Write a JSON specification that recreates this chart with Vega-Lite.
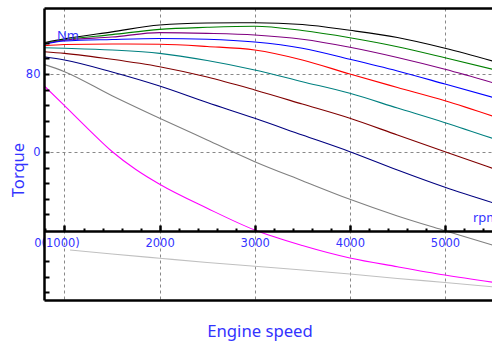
{
  "$schema": "https://vega.github.io/schema/vega-lite/v6.json",
  "width": 448,
  "height": 292,
  "autosize": "none",
  "padding": {"left": 44, "top": 8, "right": 0, "bottom": 44},
  "background": "white",
  "config": {"view": {"stroke": null}, "axis": {"labelFont": "DejaVu Sans", "titleFont": "Noto Sans"}},
  "datasets": {
    "curves": [
      {"s":"black","rpm":785,"t":112.1},{"s":"black","rpm":1000,"t":116},{"s":"black","rpm":1500,"t":123.2},{"s":"black","rpm":2000,"t":130.3},{"s":"black","rpm":2500,"t":132.3},{"s":"black","rpm":3000,"t":132.6},{"s":"black","rpm":3500,"t":130.8},{"s":"black","rpm":4000,"t":124.8},{"s":"black","rpm":4500,"t":117.4},{"s":"black","rpm":5000,"t":106.4},{"s":"black","rpm":5500,"t":93.3},
      {"s":"green","rpm":785,"t":111.6},{"s":"green","rpm":1000,"t":115.2},{"s":"green","rpm":1500,"t":120.4},{"s":"green","rpm":2000,"t":125.8},{"s":"green","rpm":2500,"t":127.9},{"s":"green","rpm":3000,"t":129},{"s":"green","rpm":3500,"t":124.6},{"s":"green","rpm":4000,"t":117.2},{"s":"green","rpm":4500,"t":108},{"s":"green","rpm":5000,"t":96.7},{"s":"green","rpm":5500,"t":84.8},
      {"s":"purple","rpm":785,"t":111.1},{"s":"purple","rpm":1000,"t":114.6},{"s":"purple","rpm":1500,"t":117.9},{"s":"purple","rpm":2000,"t":122.4},{"s":"purple","rpm":2500,"t":121.7},{"s":"purple","rpm":3000,"t":120},{"s":"purple","rpm":3500,"t":115.6},{"s":"purple","rpm":4000,"t":107.4},{"s":"purple","rpm":4500,"t":96.9},{"s":"purple","rpm":5000,"t":84.8},{"s":"purple","rpm":5500,"t":71.1},
      {"s":"blue","rpm":785,"t":110.5},{"s":"blue","rpm":1000,"t":113.8},{"s":"blue","rpm":1500,"t":115.4},{"s":"blue","rpm":2000,"t":116.4},{"s":"blue","rpm":2500,"t":115.6},{"s":"blue","rpm":3000,"t":112.8},{"s":"blue","rpm":3500,"t":106.4},{"s":"blue","rpm":4000,"t":95.1},{"s":"blue","rpm":4500,"t":83.1},{"s":"blue","rpm":5000,"t":69.7},{"s":"blue","rpm":5500,"t":56.1},
      {"s":"red","rpm":785,"t":109},{"s":"red","rpm":1000,"t":110.3},{"s":"red","rpm":1500,"t":110.8},{"s":"red","rpm":2000,"t":110.5},{"s":"red","rpm":2500,"t":108.2},{"s":"red","rpm":3000,"t":104.6},{"s":"red","rpm":3500,"t":94.4},{"s":"red","rpm":4000,"t":80},{"s":"red","rpm":4500,"t":66.2},{"s":"red","rpm":5000,"t":52.6},{"s":"red","rpm":5500,"t":36.9},
      {"s":"teal","rpm":785,"t":107},{"s":"teal","rpm":1000,"t":106.4},{"s":"teal","rpm":1500,"t":104.6},{"s":"teal","rpm":2000,"t":101.2},{"s":"teal","rpm":2500,"t":93.8},{"s":"teal","rpm":3000,"t":84.1},{"s":"teal","rpm":3500,"t":72.1},{"s":"teal","rpm":4000,"t":60.2},{"s":"teal","rpm":4500,"t":45.1},{"s":"teal","rpm":5000,"t":30.1},{"s":"teal","rpm":5500,"t":14},
      {"s":"maroon","rpm":785,"t":102.9},{"s":"maroon","rpm":1000,"t":101.2},{"s":"maroon","rpm":1500,"t":95.1},{"s":"maroon","rpm":2000,"t":87.5},{"s":"maroon","rpm":2500,"t":76.9},{"s":"maroon","rpm":3000,"t":63.6},{"s":"maroon","rpm":3500,"t":49.2},{"s":"maroon","rpm":4000,"t":34.6},{"s":"maroon","rpm":4500,"t":17.4},{"s":"maroon","rpm":5000,"t":0.3},{"s":"maroon","rpm":5500,"t":-16.7},
      {"s":"navy","rpm":785,"t":97.7},{"s":"navy","rpm":1000,"t":94.4},{"s":"navy","rpm":1500,"t":82.1},{"s":"navy","rpm":2000,"t":67.7},{"s":"navy","rpm":2500,"t":50.8},{"s":"navy","rpm":3000,"t":34.6},{"s":"navy","rpm":3500,"t":17.4},{"s":"navy","rpm":4000,"t":0.3},{"s":"navy","rpm":4500,"t":-18.5},{"s":"navy","rpm":5000,"t":-36.2},{"s":"navy","rpm":5500,"t":-52},
      {"s":"gray","rpm":785,"t":89.9},{"s":"gray","rpm":1000,"t":82.4},{"s":"gray","rpm":1500,"t":57.7},{"s":"gray","rpm":2000,"t":34.6},{"s":"gray","rpm":2500,"t":12.3},{"s":"gray","rpm":3000,"t":-9.9},{"s":"gray","rpm":3500,"t":-29.4},{"s":"gray","rpm":4000,"t":-48.5},{"s":"gray","rpm":4500,"t":-65.6},{"s":"gray","rpm":5000,"t":-80.7},{"s":"gray","rpm":5500,"t":-95.4},
      {"s":"magenta","rpm":785,"t":68},{"s":"magenta","rpm":1000,"t":47.5},{"s":"magenta","rpm":1250,"t":23.5},{"s":"magenta","rpm":1500,"t":0.5},{"s":"magenta","rpm":1750,"t":-18},{"s":"magenta","rpm":2000,"t":-33.1},{"s":"magenta","rpm":2500,"t":-57.7},{"s":"magenta","rpm":3000,"t":-80},{"s":"magenta","rpm":3500,"t":-95.9},{"s":"magenta","rpm":4000,"t":-108.7},{"s":"magenta","rpm":4500,"t":-117.7},{"s":"magenta","rpm":5000,"t":-126.2},{"s":"magenta","rpm":5500,"t":-133.6},
      {"s":"silver","rpm":1058,"t":-100.5},{"s":"silver","rpm":1500,"t":-104.6},{"s":"silver","rpm":2000,"t":-109},{"s":"silver","rpm":2500,"t":-113.3},{"s":"silver","rpm":3000,"t":-117.2},{"s":"silver","rpm":3500,"t":-121},{"s":"silver","rpm":4000,"t":-125.1},{"s":"silver","rpm":4500,"t":-129.7},{"s":"silver","rpm":5000,"t":-133.8},{"s":"silver","rpm":5500,"t":-138.2}
    ],
    "notes": [
      {"label": "Nm", "rpm": 921, "t": 114.9},
      {"label": "rpm", "rpm": 5294, "t": -71.8}
    ]
  },
  "data": {"name": "curves"},
  "layer": [
    {
      "mark": {"type": "point", "opacity": 0},
      "encoding": {
        "x": {"field": "rpm", "type": "quantitative", "scale": {"domain": [784.5, 5494], "nice": false, "zero": false},
          "axis": {"orient": "bottom", "grid": true, "gridColor": "#888888", "gridDash": [3, 3], "gridWidth": 1, "values": [1000, 2000, 3000, 4000, 5000],
            "domain": true, "domainColor": "black", "domainWidth": 2.5, "ticks": false, "labels": false,
            "title": "Engine speed", "titleColor": "#3333ff", "titleFontSize": 16.7, "titleFontWeight": "normal",
            "titleX": 215.5, "titleY": 36.7, "titleAlign": "center", "titleBaseline": "alphabetic", "titleAngle": 0, "zindex": 0}},
        "y": {"field": "t", "type": "quantitative", "scale": {"domain": [-151.8, 147.7], "nice": false, "zero": false},
          "axis": {"orient": "left", "grid": true, "gridColor": "#888888", "gridDash": [3, 3], "gridWidth": 1, "values": [80, 0],
            "domain": false, "ticks": false, "labels": false, "title": null, "zindex": 0}}
      }
    },
    {
      "mark": {"type": "line", "strokeWidth": 1.1, "clip": true, "interpolate": "monotone"},
      "encoding": {
        "x": {"field": "rpm", "type": "quantitative",
          "axis": {"orient": "bottom", "offset": -69, "grid": false, "domain": true, "domainColor": "black", "domainWidth": 2.5, "ticks": false,
            "values": [1000, 2000, 3000, 4000, 5000], "format": "d",
            "labelExpr": "datum.value == 1000 ? '0(1000)' : datum.label",
            "labelOffset": {"condition": {"test": "datum.value == 1000", "value": -8}, "value": 0},
            "labelPadding": 6.5, "labelBaseline": "top", "labelFontSize": 11.5, "labelColor": "#3333ff", "labelFlush": false,
            "title": null, "zindex": 1}},
        "y": {"field": "t", "type": "quantitative",
          "axis": {"orient": "left", "grid": false, "domain": true, "domainColor": "black", "domainWidth": 2.5, "ticks": false,
            "values": [80, 0], "labelExpr": "datum.value == 0 ? '0' : datum.label",
            "labelColor": "#3333ff", "labelFontSize": 11.5, "labelPadding": 4, "labelBaseline": "middle", "labelFlush": false,
            "title": "Torque", "titleColor": "#3333ff", "titleFontSize": 16.6, "titleFontWeight": "normal", "titleAngle": 270,
            "titleX": -20.6, "titleY": 161.5, "titleAlign": "center", "titleBaseline": "alphabetic", "zindex": 1}},
        "color": {"field": "s", "type": "nominal", "legend": null,
          "scale": {"domain": ["black", "green", "purple", "blue", "red", "teal", "maroon", "navy", "gray", "magenta", "silver"],
            "range": ["#000000", "#008000", "#800080", "#0000ff", "#ff0000", "#008080", "#800000", "#000080", "#808080", "#ff00ff", "#c0c0c0"]}}
      }
    },
    {
      "mark": {"type": "point", "opacity": 0},
      "encoding": {
        "x": {"field": "rpm", "type": "quantitative",
          "axis": {"orient": "top", "domain": true, "domainColor": "black", "domainWidth": 2.5, "ticks": false, "labels": false, "grid": false, "title": null, "zindex": 1}},
        "y": {"field": "t", "type": "quantitative",
          "axis": {"orient": "right", "offset": -448, "domain": false, "ticks": true, "tickColor": "black", "tickWidth": 2, "tickSize": 5,
            "values": [112, 96, 80, 64, 48, 32, 16, 0, -16, -32, -48, -64, -112, -128, -144],
            "labels": false, "grid": false, "title": null, "zindex": 1}}
      }
    },
    {
      "mark": {"type": "point", "opacity": 0},
      "encoding": {
        "x": {"field": "rpm", "type": "quantitative",
          "axis": {"orient": "top", "offset": -223, "domain": false, "ticks": true, "tickColor": "black", "tickWidth": 2, "tickSize": 3,
            "values": [800, 1200, 1400, 1600, 1800, 2200, 2400, 2600, 2800, 3200, 3400, 3600, 3800, 4200, 4400, 4600, 4800, 5200, 5400],
            "labels": false, "grid": false, "title": null, "zindex": 1}},
        "y": {"field": "t", "type": "quantitative", "axis": null}
      }
    },
    {
      "mark": {"type": "point", "opacity": 0},
      "encoding": {
        "x": {"field": "rpm", "type": "quantitative",
          "axis": {"orient": "top", "offset": -223, "domain": false, "ticks": true, "tickColor": "black", "tickWidth": 2.5, "tickSize": 6,
            "values": [1000, 2000, 3000, 4000, 5000],
            "labels": false, "grid": false, "title": null, "zindex": 1}},
        "y": {"field": "t", "type": "quantitative", "axis": null}
      }
    },
    {
      "data": {"name": "notes"},
      "mark": {"type": "text", "align": "left", "baseline": "alphabetic", "font": "Noto Sans", "fontSize": 13, "color": "#3333ff", "clip": true},
      "encoding": {
        "x": {"field": "rpm", "type": "quantitative", "axis": null},
        "y": {"field": "t", "type": "quantitative", "axis": null},
        "text": {"field": "label"}
      }
    }
  ],
  "resolve": {"axis": {"x": "independent", "y": "independent"}}
}
